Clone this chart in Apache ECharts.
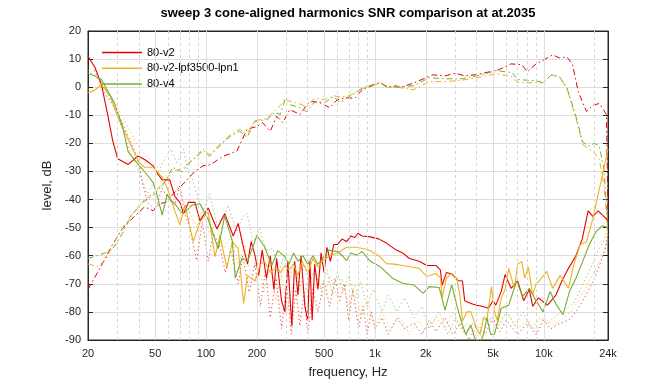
<!DOCTYPE html>
<html><head><meta charset="utf-8">
<script src="https://cdn.jsdelivr.net/npm/echarts@6/dist/echarts.min.js"></script>
<style>html,body{margin:0;padding:0;background:#fff}#c{width:672px;height:384px}</style>
</head><body><div id="c"></div>
<script>
// ---- axis ticks ----
const xTicks = [20, 50, 100, 200, 500, 1000, 2000, 5000, 10000, 24000];
const xTickLabels = ['20', '50', '100', '200', '500', '1k', '2k', '5k', '10k', '24k'];
const majorGridX = [50, 100, 200, 500, 1000, 2000, 5000, 10000];
const minorGridX = [30, 40, 60, 70, 80, 90, 300, 400, 600, 700, 800, 900, 3000, 4000, 6000, 7000, 8000, 9000, 20000];
const legendNames = ['80-v2', '80-v2-lpf3500-lpn1', '80-v4'];

// ---- series values [frequency Hz, level dB] ----
const redSolid = [[20,11],[22,7],[24,1],[26,-9],[28,-19],[30,-25.5],[34.6,-27.5],[39.6,-24.5],[44,-26],[48.6,-28],[52,-31],[55,-33],[61,-33],[65.5,-39],[70,-41],[73.6,-45],[78.6,-41],[86,-41],[92,-47.5],[103,-43],[116,-50.5],[129,-45],[145,-53],[155,-48.5],[165,-56],[176,-63],[185,-55],[195,-60],[205,-67],[215,-58],[228,-68],[240,-60],[252,-72],[262,-61],[280,-76],[293,-80],[305,-62],[322,-85],[335,-62],[350,-74],[365,-60],[385,-78],[400,-83],[412,-62],[425,-83],[440,-63],[460,-72],[480,-59],[500,-66],[520,-57],[545,-62],[570,-56],[600,-56],[640,-54],[680,-55],[720,-53],[760,-53.5],[794,-52],[840,-53],[938,-53.3],[1050,-54],[1170,-55.5],[1340,-58],[1460,-59],[1600,-61],[1830,-62],[2030,-63.5],[2300,-63.5],[2440,-65],[2500,-70.5],[2650,-66],[2850,-66.5],[3100,-68.8],[3300,-69],[3400,-76],[3700,-77],[4000,-77.6],[4300,-78],[4700,-78.7],[5000,-76],[5200,-77.6],[5600,-72.7],[5900,-66.7],[6400,-71.6],[7000,-69],[7600,-76],[8200,-72],[8600,-78],[9300,-75],[10500,-77.6],[11800,-74],[12800,-69],[14000,-64.5],[15500,-60],[16900,-54],[18300,-44],[19500,-46],[21000,-44],[24000,-47.5]];
const orangeSolid = [[20,-2],[22,-1],[24,1],[27,-3],[30,-10.5],[34.6,-18.6],[40,-26.7],[43.3,-28.5],[48.6,-28.5],[55,-32],[59,-36],[63.5,-42],[70,-49],[75,-42],[84,-55],[92,-48],[103,-44.5],[113,-60.3],[121,-52.8],[133,-64.5],[143,-55],[155,-57.5],[167,-77],[176,-67],[195,-69],[210,-63],[222,-62],[240,-66],[256,-64.5],[275,-66],[293,-63.5],[310,-65],[330,-63],[350,-67],[370,-62],[400,-66],[430,-61],[460,-64],[492,-61.7],[540,-60],[600,-59],[680,-57],[780,-57],[860,-57.5],[940,-58.2],[1050,-60],[1170,-62.8],[1300,-63],[1460,-63.5],[1650,-64],[1830,-64.5],[2030,-67.4],[2300,-66.3],[2450,-68],[2500,-75],[2650,-68],[2850,-66.3],[3050,-68],[3200,-75],[3300,-83.3],[3500,-80],[3700,-80],[4000,-86],[4200,-88],[4400,-82],[4600,-83],[4900,-71],[5100,-80],[5300,-83],[5600,-75],[5900,-72],[6200,-64.5],[6700,-71.6],[7000,-63],[7400,-62],[7700,-68],[8100,-64],[8600,-74],[9000,-70],[9400,-69],[10400,-65.6],[11300,-71.6],[12500,-67],[14000,-71.6],[15000,-63.5],[16400,-56],[17900,-55],[19500,-47],[21000,-38],[22500,-30],[24000,-22]];
const greenSolid = [[20,5],[22,4],[24,2.7],[26,-1],[28.6,-5.5],[32,-14],[34.6,-23],[39.6,-27.4],[44.5,-31],[48.6,-34],[51,-38],[55,-45.5],[59,-38],[61,-40],[65.5,-41.5],[70,-44],[73.6,-45],[82.6,-42],[92,-41.5],[103,-47],[110,-52],[118,-57.5],[129,-45.8],[143,-54.6],[149,-68],[163,-61],[176,-62],[200,-52.8],[222,-56.8],[245,-63.5],[266,-58.2],[293,-60.3],[310,-63],[330,-59],[350,-62],[375,-60],[400,-63],[430,-60],[460,-63],[492,-61],[530,-58],[600,-58.5],[640,-60],[680,-61.7],[720,-59],[780,-59.8],[840,-58.5],[940,-62],[1070,-63.8],[1270,-68],[1460,-69.8],[1700,-70.4],[1930,-73.4],[2100,-71],[2400,-71.3],[2600,-79.4],[2850,-70.4],[3050,-77.6],[3200,-82],[3300,-84.7],[3450,-88],[3700,-84.7],[3900,-89.3],[4200,-91],[4400,-88],[4600,-82],[4850,-88],[5100,-88],[5600,-78.7],[6200,-77.6],[6900,-69],[7500,-74.5],[8200,-71.6],[9000,-76],[9900,-80],[10900,-72.7],[11900,-77.6],[13000,-81],[14200,-72.7],[15500,-68],[17000,-62],[18600,-56],[20400,-51.4],[22300,-49.3],[24000,-50]];

const redDashDot = [[20,-72],[23.5,-64.5],[27.7,-56.4],[31.9,-50.4],[37.9,-45.8],[43.3,-42.6],[48.6,-44],[53,-41.5],[58,-41],[65.5,-37.3],[75,-33.8],[86,-29.9],[96,-28],[107,-27.5],[126,-24.6],[152,-22.8],[175,-15],[200,-14],[216,-12.6],[240,-15.7],[262,-10.4],[285,-12.6],[313,-8],[360,-9.7],[410,-5],[470,-5.5],[540,-7.3],[600,-4.4],[680,-3.7],[760,-4],[820,-1.6],[890,-0.2],[960,0.5],[1070,1.6],[1200,0],[1340,0.5],[1400,-0.2],[1700,1.5],[2200,4.4],[2600,4],[3000,5],[3400,4],[3900,4.4],[4400,5],[5400,6.2],[6400,8.3],[7400,8],[8000,5.5],[9000,8.3],[10000,9.7],[11300,11.5],[12400,10.4],[13700,10.8],[14800,8],[16000,-1.6],[17900,-8.7],[19500,-6.5],[21300,-5.8],[23500,-9.7],[24000,-45]];
const orangeDashDot = [[20,-63],[22.9,-63.8],[25.3,-61.7],[30,-52.8],[34.6,-47],[39.6,-42.6],[42.4,-40.5],[48,-38],[57,-33.5],[63.5,-30],[72,-29],[80,-27],[89,-24],[96,-22],[105,-24],[120,-20.5],[139,-17],[158,-15],[175,-16.5],[194,-12],[230,-11],[255,-8.5],[280,-6],[294,-4],[313,-5],[360,-6],[395,-7],[440,-4],[505,-4.5],[570,-3],[620,-3.5],[710,-3],[845,-0.5],[970,0.5],[1070,1.6],[1170,0],[1340,0],[1700,-0.9],[2100,2],[2600,2],[3300,2.5],[4300,3.7],[5200,4.8],[6500,3.7],[7000,1.6],[9000,1.6],[9900,1.6],[11100,4.4],[12400,3.7],[13700,-0.5],[15500,-11],[17000,-20.5],[18500,-22],[19600,-22.8],[21300,-25.6],[22700,-35],[23500,-45],[24000,-55]];
const greenDashDot = [[20,-61],[25.3,-59],[28.6,-56.8],[32,-52],[36,-45.8],[42,-41],[45,-40],[51,-37.3],[57,-33.8],[63.5,-28.5],[72,-30.2],[80,-26.7],[89,-24.6],[96,-22.5],[105,-24.6],[120,-21],[139,-17.5],[158,-15.7],[175,-17.8],[194,-12.2],[230,-11.5],[255,-9],[275,-9.7],[294,-4.4],[313,-6.2],[360,-7.3],[395,-8.7],[440,-5.1],[505,-5.5],[570,-3.3],[620,-5.5],[710,-3.3],[845,-0.3],[970,0.9],[1070,1.6],[1170,0.2],[1340,0],[1700,0.5],[2100,3.4],[2600,3],[3300,3],[4300,4.4],[5200,5.9],[6500,5.2],[7000,2.7],[9000,2.3],[9900,1.6],[11100,4.4],[12400,3.7],[13700,-0.2],[15500,-10.4],[17000,-19.6],[18500,-21],[20000,-20],[21300,-21],[22700,-29],[24000,-50]];

const redDotted = [[21.8,6],[25,-2],[30,-9],[34.6,-17.5],[39.6,-25.6],[42,-34],[45,-41],[50,-43.5],[55,-36],[60,-40],[65,-42],[70,-35],[75,-45],[80,-50],[88,-61.7],[95,-48],[103,-62],[110,-52],[120,-56],[130,-66],[140,-58],[155,-70],[165,-60],[180,-73],[195,-63],[210,-78],[225,-65],[240,-82],[260,-68],[280,-86],[300,-70],[320,-88],[340,-72],[360,-85],[380,-73],[400,-88],[430,-72],[460,-80],[500,-69],[540,-78],[580,-68],[620,-76],[660,-70],[700,-83],[740,-72],[800,-86],[850,-78],[900,-88],[950,-80],[1000,-86],[1100,-82],[1200,-88],[1350,-82],[1500,-86],[1700,-84],[1900,-88],[2100,-83],[2300,-87],[2600,-82],[2900,-88],[3200,-84],[3600,-90],[4000,-85],[4500,-88],[5000,-82],[5500,-87],[6000,-83],[7000,-88],[8000,-84],[9000,-88],[10000,-83],[11000,-86],[12500,-84],[14000,-83],[15500,-80],[17000,-76],[18500,-72],[20000,-68],[21500,-63],[23000,-58],[24000,-52]];
const orangeDotted = [[20,-1],[24,0],[28,-4],[30,-7.4],[35,-15],[39.6,-21],[44,-24],[48,-26.7],[55,-30],[63.5,-33.8],[70,-37],[75,-42],[80,-45],[88,-50],[95,-44],[105,-52],[115,-48],[125,-58],[140,-53],[155,-63],[170,-56],[185,-68],[200,-60],[220,-73],[240,-63],[260,-76],[280,-66],[300,-80],[330,-70],[360,-82],[390,-71],[420,-77],[460,-68],[500,-76],[540,-67],[590,-74],[640,-68],[700,-78],[760,-70],[830,-82],[900,-76],[1000,-85],[1100,-80],[1250,-86],[1400,-82],[1600,-88],[1800,-83],[2000,-87],[2300,-82],[2600,-86],[2900,-80],[3200,-86],[3600,-84],[4000,-89],[4500,-81],[5000,-78],[5500,-84],[6000,-80],[7000,-86],[8000,-83],[9000,-87],[10000,-82],[11500,-85],[13000,-82],[14500,-80],[16000,-76],[17500,-72],[19000,-68],[20500,-64],[22000,-60],[23500,-56],[24000,-52]];
const greenDotted = [[20,6],[24,2],[28,-6],[32,-15],[36,-24],[40,-30],[45,-38],[50,-33],[55,-27],[62,-22],[67,-27],[73.6,-22],[78,-30],[83,-32.7],[90,-40],[96,-44],[105,-38],[115,-48],[126,-47],[135,-42],[152,-51.5],[165,-46],[175,-45],[190,-55],[208,-50.4],[225,-58],[250,-57.5],[270,-66],[290,-60],[310,-70],[330,-62],[360,-72],[380,-63],[410,-70],[440,-64],[480,-72],[520,-65],[560,-74],[600,-66],[650,-73],[700,-67],[760,-76],[820,-69],[900,-78],[980,-72],[1100,-80],[1200,-74],[1350,-80],[1500,-75],[1700,-82],[1900,-78],[2100,-86],[2400,-80],[2700,-88],[3000,-82],[3400,-88],[3800,-84],[4300,-89],[4800,-82],[5300,-86],[6000,-80],[6800,-85],[7500,-80],[8500,-86],[9500,-82],[10500,-84],[12000,-81],[13500,-79],[15000,-77],[16500,-72],[18000,-67],[19500,-63],[21000,-58],[22500,-55],[24000,-50]];

// ---- styling ----
const RED = '#e60000', ORANGE = '#edb120', GREEN = '#77ac30';
const FONT = '"Liberation Sans", Arial, Helvetica, sans-serif';
const DASHDOT = [6, 3, 1.5, 3];
const DOTTED = [1.2, 2.8];

function mk(name, data, color, dash, width, opacity, z) {
  return {
    name: name, type: 'line', data: data, symbol: 'none', showSymbol: false,
    clip: true, z: z, silent: true, animation: false,
    lineStyle: { color: color, width: width, type: dash, opacity: opacity },
    itemStyle: { color: color }, emphasis: { disabled: true }
  };
}

const gridLines = majorGridX.map(v => ({ xAxis: v, lineStyle: { color: '#dedede', type: 'solid', width: 1 } }))
  .concat(minorGridX.map(v => ({ xAxis: v, lineStyle: { color: '#d4d4d4', type: [3, 3], width: 1 } })));

const series = [
  { name: 'grid', type: 'line', data: [], z: 1, silent: true, animation: false,
    markLine: { silent: true, symbol: ['none', 'none'], label: { show: false }, animation: false, data: gridLines } },
  mk('80-v2 dotted', redDotted, RED, DOTTED, 1, 0.75, 2),
  mk('80-v2-lpf3500-lpn1 dotted', orangeDotted, ORANGE, DOTTED, 1, 0.75, 2),
  mk('80-v4 dotted', greenDotted, GREEN, DOTTED, 1, 0.75, 2),
  mk('80-v2 dashdot', redDashDot, RED, DASHDOT, 1, 1, 3),
  mk('80-v2-lpf3500-lpn1 dashdot', orangeDashDot, ORANGE, DASHDOT, 1, 1, 3),
  mk('80-v4 dashdot', greenDashDot, GREEN, DASHDOT, 1, 1, 3),
  mk(legendNames[0], redSolid, RED, 'solid', 1.1, 1, 4),
  mk(legendNames[1], orangeSolid, ORANGE, 'solid', 1.1, 1, 4),
  mk(legendNames[2], greenSolid, GREEN, 'solid', 1.1, 1, 4)
];

const legendColors = [RED, ORANGE, GREEN];

const chart = echarts.init(document.getElementById('c'), null, { renderer: 'canvas' });
chart.setOption({
  backgroundColor: '#ffffff',
  animation: false,
  textStyle: { fontFamily: FONT },
  grid: { left: 88, top: 31, width: 520, height: 311, show: true, borderColor: '#262626', borderWidth: 1, backgroundColor: '#fff', containLabel: false },
  graphic: [{
    type: 'text', x: 348, y: 13, silent: true,
    style: { text: 'sweep 3 cone-aligned harmonics SNR comparison at at.2035', fontFamily: FONT, fontSize: 13, fontWeight: 'bold', fill: '#000', align: 'center', verticalAlign: 'middle' }
  }],
  legend: {
    data: legendNames.map((n, i) => ({ name: n, icon: 'rect', itemStyle: { color: legendColors[i], borderWidth: 0, borderColor: legendColors[i] } })),
    orient: 'vertical', left: 102, top: 47, padding: 0, itemWidth: 40, itemHeight: 1.5, itemGap: 4.8,
    textStyle: { fontFamily: FONT, fontSize: 11, color: '#000' }, selectedMode: false
  },
  xAxis: [{
    type: 'log', logBase: 10, min: 20, max: 24000, position: 'bottom',
    name: 'frequency, Hz', nameLocation: 'middle', nameGap: 26,
    nameTextStyle: { fontFamily: FONT, fontSize: 13, color: '#262626' },
    axisLine: { show: true, onZero: false, lineStyle: { color: '#262626', width: 1 } },
    axisTick: { show: true, inside: true, length: 5, customValues: xTicks, lineStyle: { color: '#262626' } },
    axisLabel: { show: true, customValues: xTicks, margin: 8, fontFamily: FONT, fontSize: 11, color: '#262626',
      formatter: function (v) { const i = xTicks.findIndex(t => Math.abs(t - v) / t < 1e-6); return i >= 0 ? xTickLabels[i] : ''; } },
    splitLine: { show: false }, minorTick: { show: false }
  }, {
    type: 'log', logBase: 10, min: 20, max: 24000, position: 'top',
    axisLine: { show: true, onZero: false, lineStyle: { color: '#262626', width: 1 } },
    axisTick: { show: true, inside: true, length: 5, customValues: xTicks, lineStyle: { color: '#262626' } },
    axisLabel: { show: false }, splitLine: { show: false }
  }],
  yAxis: [{
    type: 'value', min: -90, max: 20, interval: 10, position: 'left',
    name: 'level, dB', nameLocation: 'middle', nameGap: 27, nameRotate: 90,
    nameTextStyle: { fontFamily: FONT, fontSize: 13, color: '#262626' },
    axisLine: { show: true, onZero: false, lineStyle: { color: '#262626', width: 1 } },
    axisTick: { show: true, inside: true, length: 5, lineStyle: { color: '#262626' } },
    axisLabel: { margin: 7, fontFamily: FONT, fontSize: 11, color: '#262626' },
    splitLine: { show: true, lineStyle: { color: '#dedede', width: 1 } }
  }, {
    type: 'value', min: -90, max: 20, interval: 10, position: 'right',
    axisLine: { show: true, onZero: false, lineStyle: { color: '#262626', width: 1 } },
    axisTick: { show: true, inside: true, length: 5, lineStyle: { color: '#262626' } },
    axisLabel: { show: false }, splitLine: { show: false }
  }],
  series: series
});
</script></body></html>
